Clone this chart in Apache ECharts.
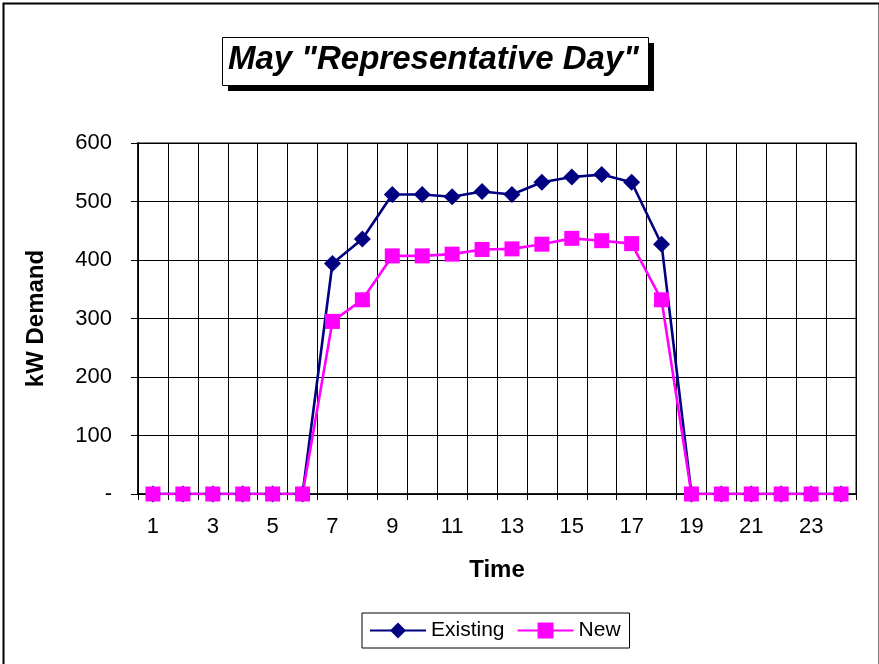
<!DOCTYPE html>
<html>
<head>
<meta charset="utf-8">
<script src="https://cdn.jsdelivr.net/npm/echarts@6/dist/echarts.min.js"></script>
<style>html,body{margin:0;padding:0;background:#fff}#c{width:879px;height:664px}</style>
</head>
<body>
<div id="c"></div>
<script>
const hours = ['1','2','3','4','5','6','7','8','9','10','11','12','13','14','15','16','17','18','19','20','21','22','23','24'];
const existing = [0,0,0,0,0,0,394,436,512,512,508,517,512,533,542,546,533,427,0,0,0,0,0,0];
const newer = [0,0,0,0,0,0,295,332,407,407,410,418,419,427,437,433,428,332,0,0,0,0,0,0];
const yTicks = [0,100,200,300,400,500,600];

const chart = echarts.init(document.getElementById('c'));
const font = 'Arial, "Liberation Sans", sans-serif';
chart.setOption({
  animation: false,
  backgroundColor: '#fff',
  graphic: [{
    type: 'rect', left: 1, top: 1, z: -10,
    shape: {x: 0, y: 0, width: 876, height: 720},
    style: {fill: 'none', stroke: '#000', lineWidth: 2}
  }, {
    type: 'rect', z: 0,
    shape: {x: 228, y: 43, width: 426, height: 48},
    style: {fill: '#000'}
  }, {
    type: 'rect', z: 1,
    shape: {x: 222.5, y: 37.5, width: 426, height: 48},
    style: {fill: '#fff', stroke: '#000', lineWidth: 1}
  }],
  title: {
    text: 'May "Representative Day"',
    left: 228, top: 40, z: 10,
    padding: 0,
    textStyle: {fontFamily: font, fontSize: 33, fontWeight: 'bold', fontStyle: 'italic', color: '#000', lineHeight: 40}
  },
  legend: {
    left: 362, top: 613,
    padding: [7, 9, 7, 7],
    itemGap: 12, itemWidth: 56, itemHeight: 20,
    borderColor: '#000', borderWidth: 1,
    textStyle: {fontFamily: font, fontSize: 21, color: '#000'},
    data: ['Existing', 'New']
  },
  grid: {left: 138, right: 23, top: 143, bottom: 170, show: true, borderColor: '#808080', borderWidth: 2, backgroundColor: '#fff'},
  xAxis: {
    type: 'category', data: hours, boundaryGap: true,
    name: 'Time', nameLocation: 'middle', nameGap: 64,
    nameTextStyle: {fontFamily: font, fontSize: 24, fontWeight: 'bold', color: '#000'},
    axisLine: {lineStyle: {color: '#000', width: 1.5}},
    axisTick: {show: true, interval: 0, length: 6, lineStyle: {color: '#000'}},
    splitLine: {show: true, interval: 0, lineStyle: {color: '#000', width: 1}},
    axisLabel: {interval: 1, margin: 22, fontFamily: font, fontSize: 22, color: '#000'}
  },
  yAxis: {
    type: 'value', min: yTicks[0], max: yTicks[yTicks.length-1], interval: 100,
    name: 'kW Demand', nameLocation: 'middle', nameGap: 90,
    nameTextStyle: {fontFamily: font, fontSize: 24, fontWeight: 'bold', color: '#000'},
    axisLine: {show: true, lineStyle: {color: '#000', width: 1.5}},
    axisTick: {show: true, length: 7, lineStyle: {color: '#000'}},
    splitLine: {show: true, lineStyle: {color: '#000', width: 1}},
    axisLabel: {margin: 26, fontFamily: font, fontSize: 22, color: '#000',
      formatter: v => v === 0 ? '-' : String(v)}
  },
  series: [{
    name: 'Existing', type: 'line', data: existing,
    symbol: 'diamond', symbolSize: 17,
    lineStyle: {color: '#000080', width: 2.6},
    itemStyle: {color: '#000080'}
  }, {
    name: 'New', type: 'line', data: newer,
    symbol: 'rect', symbolSize: 15,
    lineStyle: {color: '#FF00FF', width: 2.6},
    itemStyle: {color: '#FF00FF'}
  }]
});
</script>
</body>
</html>
